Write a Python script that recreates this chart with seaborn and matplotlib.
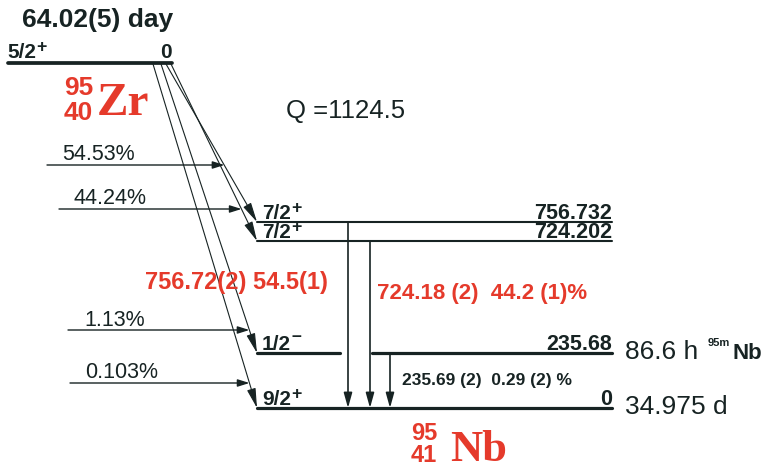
import matplotlib.pyplot as plt
import pandas as pd
import seaborn as sns

parent_halflife = "64.02(5) day"
parent_spin = "5/2"
parent_parity = "+"
parent_energy = "0"
q_value = "Q =1124.5"

level_energy = ["756.732", "724.202", "235.68", "0"]
level_spin = ["7/2", "7/2", "1/2", "9/2"]
level_parity = ["+", "+", "\u2013", "+"]
beta_intensity = ["54.53%", "44.24%", "1.13%", "0.103%"]

gamma_label = ["756.72(2) 54.5(1)", "724.18 (2)  44.2 (1)%", "235.69 (2)  0.29 (2) %"]
gamma_from = [0, 1, 2]
gamma_to = [3, 3, 3]

level_halflife = ["", "", "86.6 h", "34.975 d"]

# schematic layout (pixel space, y downwards)
W, H = 767, 471
level_y = [222, 241, 353, 408]
level_x0, level_x1 = 257, 612
gap_1_2 = (340, 372)
parent_y = 63
gamma_x = [348, 370, 390]
beta_x0 = [166, 171, 161, 153]
feed_y = [165, 209, 330, 383]
feed_x0 = [47, 59, 68, 70]
feed_text_x = [62, 73, 84, 85]

INK = "#172323"
RED = "#e53a2b"

sns.set_theme(style="white")
plt.rcParams["font.family"] = ["Liberation Sans", "DejaVu Sans"]

fig = plt.figure(figsize=(W / 100, H / 100), dpi=100)
ax = fig.add_axes([0, 0, 1, 1])

# level lines
rows = [dict(x=8, y=parent_y, seg="p", kind="parent"), dict(x=172, y=parent_y, seg="p", kind="parent")]
for i, y in enumerate(level_y):
    kind = "upper" if i < 2 else "lower"
    if i == 2:
        pieces = [(level_x0, gap_1_2[0]), (gap_1_2[1], level_x1)]
    else:
        pieces = [(level_x0, level_x1)]
    for j, (a, b) in enumerate(pieces):
        rows.append(dict(x=a, y=y, seg=f"{i}-{j}", kind=kind))
        rows.append(dict(x=b, y=y, seg=f"{i}-{j}", kind=kind))
levels = pd.DataFrame(rows)
sns.lineplot(data=levels, x="x", y="y", units="seg", estimator=None, sort=False,
             size="kind", sizes={"parent": 2.7, "upper": 1.5, "lower": 2.3},
             color=INK, legend=False, ax=ax)
ax.set_xlim(0, W)
ax.set_ylim(H, 0)
ax.axis("off")


def spin_label(x, y, spin, parity, size):
    t = ax.text(x, y, spin, fontsize=size, fontweight="bold", color=INK, va="baseline")
    lift = 6.5 if parity == "\u2013" else 4
    ax.annotate(parity, xy=(1, 0), xycoords=t, xytext=(0.5, lift), textcoords="offset points",
                fontsize=size * 0.85, fontweight="bold", color=INK, ha="left", va="bottom")


# parent level text
ax.text(22, 27, parent_halflife, fontsize=19, fontweight="bold", color=INK, va="baseline")
spin_label(7, 58, parent_spin, parent_parity, 15)
ax.text(172, 58, parent_energy, fontsize=15, fontweight="bold", color=INK, ha="right", va="baseline")

# parent nuclide
ax.text(93, 88, "95", fontsize=19, fontweight="bold", color=RED, ha="right", va="center")
ax.text(93, 113, "40", fontsize=19, fontweight="bold", color=RED, ha="right", va="center")
ax.text(97, 115, "Zr", fontsize=34, fontweight="bold", color=RED, va="baseline",
        family=["Liberation Serif", "DejaVu Serif"])

ax.text(286, 111, q_value, fontsize=18.5, color=INK, va="center")

# beta branches
for i, y in enumerate(level_y):
    ax.annotate("", xy=(level_x0, y), xytext=(beta_x0[i], parent_y + 1),
                arrowprops=dict(arrowstyle="-|>,head_length=1.2,head_width=0.27",
                                mutation_scale=10, lw=0.8, color=INK,
                                shrinkA=0, shrinkB=0))
    tip_x = beta_x0[i] + (level_x0 - beta_x0[i]) * (feed_y[i] - parent_y) / (y - parent_y)
    ax.annotate("", xy=(tip_x, feed_y[i]), xytext=(feed_x0[i], feed_y[i]),
                arrowprops=dict(arrowstyle="-|>,head_length=0.7,head_width=0.22",
                                mutation_scale=10, lw=1.0, color=INK,
                                shrinkA=0, shrinkB=0))
    ax.text(feed_text_x[i], feed_y[i] - 10, beta_intensity[i], fontsize=15.5,
            color=INK, va="center")

    # level labels
    spin_label(262, y - 3, level_spin[i], level_parity[i], 15)
    ax.text(level_x1, y - 3, level_energy[i], fontsize=15.5, fontweight="bold", color=INK,
            ha="right", va="baseline")
    if level_halflife[i]:
        ax.text(625, y + 6, level_halflife[i], fontsize=19, color=INK, va="baseline")

# isomer tag
ax.text(708, 338, "95m", fontsize=8, fontweight="bold", color=INK, va="top")
ax.text(733, 359, "Nb", fontsize=16, fontweight="bold", color=INK, va="baseline")

# gamma transitions
for k in range(len(gamma_label)):
    ax.annotate("", xy=(gamma_x[k], level_y[gamma_to[k]]),
                xytext=(gamma_x[k], level_y[gamma_from[k]]),
                arrowprops=dict(arrowstyle="-|>,head_length=0.9,head_width=0.25",
                                mutation_scale=10, lw=1.2, color=INK,
                                shrinkA=0, shrinkB=0))
ax.text(145, 283, gamma_label[0], fontsize=17, fontweight="bold", color=RED, va="center")
ax.text(377, 293, gamma_label[1], fontsize=16, fontweight="bold", color=RED, va="center")
ax.text(402, 380, gamma_label[2], fontsize=12.5, fontweight="bold", color=INK, va="center")

# daughter nuclide
ax.text(437, 434, "95", fontsize=17, fontweight="bold", color=RED, ha="right", va="center")
ax.text(437, 456, "41", fontsize=17, fontweight="bold", color=RED, ha="right", va="center")
ax.text(450, 461, "Nb", fontsize=32, fontweight="bold", color=RED, va="baseline",
        family=["Liberation Serif", "DejaVu Serif"])

fig.savefig("out.png", dpi=100)
